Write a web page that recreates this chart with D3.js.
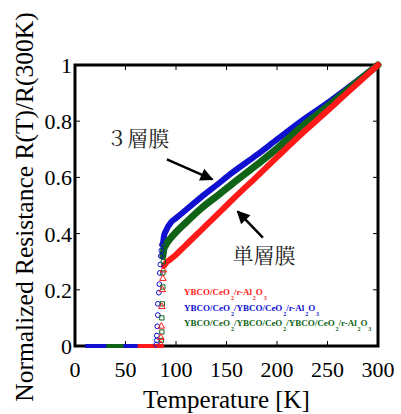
<!DOCTYPE html>
<html>
<head>
    <meta charset="UTF-8">
    <title>R(T)/R(300K)</title>
    <script src="https://d3js.org/d3.v7.min.js"></script>
    <style>
        body { margin: 0; background: #fff; }
    </style>
</head>
<body>
<svg id="chart"></svg>
<script>
// ---- data ----
const xTicks = [0, 50, 100, 150, 200, 250, 300];
const yTicks = [0, 0.2, 0.4, 0.6, 0.8, 1];
const yTickLabels = ["0", "0.2", "0.4", "0.6", "0.8", "1"];

// normal state (above Tc)
const redT   = [88, 90, 95, 100, 110, 120, 130, 140, 150, 160, 180, 200, 220, 240, 260, 280, 300];
const redR   = [0.285, 0.295, 0.31, 0.325, 0.36, 0.395, 0.43, 0.465, 0.50, 0.535, 0.603, 0.672, 0.74, 0.805, 0.87, 0.935, 1.0];
const blueT  = [87, 88, 90, 95, 100, 110, 125, 140, 155, 180, 200, 224, 250, 275, 300];
const blueR  = [0.36, 0.39, 0.41, 0.44, 0.455, 0.485, 0.53, 0.572, 0.615, 0.68, 0.735, 0.80, 0.865, 0.932, 1.0];
const greenT = [87, 88, 90, 95, 100, 110, 125, 141, 155, 180, 200, 224, 250, 275, 300];
const greenR = [0.32, 0.345, 0.36, 0.385, 0.405, 0.44, 0.49, 0.535, 0.575, 0.645, 0.703, 0.78, 0.853, 0.927, 1.0];

// transition points
const blueTrT  = [80.5, 81, 81, 81.5, 82, 82, 83, 83.5, 84, 84.5, 85, 85.5, 86];
const blueTrR  = [0.005, 0.02, 0.037, 0.07, 0.11, 0.15, 0.19, 0.22, 0.26, 0.29, 0.32, 0.34, 0.36];
const greenTrT = [85.5, 86, 86, 86.5, 87, 87, 87.5];
const greenTrR = [0.02, 0.05, 0.1, 0.15, 0.21, 0.26, 0.30];
const redTrT   = [85, 85, 85.5, 86, 86.5, 87, 87.5];
const redTrR   = [0.005, 0.03, 0.07, 0.14, 0.20, 0.24, 0.27];

// zero-resistance stretches
const blueZeroT  = [10, 84];
const greenZeroT = [31, 48];
const redZeroT   = [62, 87];

const SERIF = "Liberation Serif";
const MINCHO = "Noto Serif CJK JP";

const width = 401, height = 414;
const margin = { top: 65, right: 23, bottom: 68, left: 75 };

const svg = d3.select("#chart").attr("width", width).attr("height", height);

const x = d3.scaleLinear().domain([0, 300]).range([margin.left, width - margin.right]);
const y = d3.scaleLinear().domain([0, 1]).range([height - margin.bottom, margin.top]);

const colors = { red: "#ff1a1a", blue: "#1010d0", green: "#0f6418" };

// curves, drawn blue -> green -> red
const line = d3.line().x(d => x(d[0])).y(d => y(d[1])).curve(d3.curveMonotoneX);
const series = [
    { T: blueT, R: blueR, c: colors.blue, w: 6 },
    { T: greenT, R: greenR, c: colors.green, w: 7 },
    { T: redT, R: redR, c: colors.red, w: 6 }
];

// frame
const frame = svg.append("g");
frame.append("rect")
    .attr("x", x(0)).attr("y", y(1))
    .attr("width", x(300) - x(0)).attr("height", y(0) - y(1))
    .attr("fill", "none").attr("stroke", "#000").attr("stroke-width", 3);

// inward ticks on all sides
xTicks.slice(1, -1).forEach(t => {
    frame.append("line").attr("x1", x(t)).attr("x2", x(t)).attr("y1", y(0)).attr("y2", y(0) - 5).attr("stroke", "#000");
    frame.append("line").attr("x1", x(t)).attr("x2", x(t)).attr("y1", y(1)).attr("y2", y(1) + 5).attr("stroke", "#000");
});
yTicks.slice(1, -1).forEach(t => {
    frame.append("line").attr("x1", x(0)).attr("x2", x(0) + 5).attr("y1", y(t)).attr("y2", y(t)).attr("stroke", "#000");
    frame.append("line").attr("x1", x(300)).attr("x2", x(300) - 5).attr("y1", y(t)).attr("y2", y(t)).attr("stroke", "#000");
});

series.forEach(s => {
    svg.append("path")
        .datum(s.T.map((t, i) => [t, s.R[i]]))
        .attr("d", line)
        .attr("fill", "none")
        .attr("stroke", s.c)
        .attr("stroke-width", s.w)
        .attr("stroke-linecap", "round");
});

// zero stretches on the baseline
[[blueZeroT, colors.blue], [greenZeroT, colors.green], [redZeroT, colors.red]].forEach(([z, c]) => {
    svg.append("line")
        .attr("x1", x(z[0])).attr("x2", x(z[1]))
        .attr("y1", y(0)).attr("y2", y(0))
        .attr("stroke", c).attr("stroke-width", 4);
});

// transition markers
const sym = (type, size) => d3.symbol().type(type).size(size)();
const markerSets = [
    { T: blueTrT, R: blueTrR, c: colors.blue, type: d3.symbolCircle, size: 18 },
    { T: greenTrT, R: greenTrR, c: colors.green, type: d3.symbolSquare, size: 18 },
    { T: redTrT, R: redTrR, c: colors.red, type: d3.symbolTriangle, size: 18 }
];
markerSets.forEach(m => {
    svg.append("g").selectAll("path")
        .data(m.T.map((t, i) => [t, m.R[i]]))
        .enter().append("path")
        .attr("d", sym(m.type, m.size))
        .attr("transform", d => "translate(" + x(d[0]) + "," + y(d[1]) + ")")
        .attr("fill", "none")
        .attr("stroke", m.c)
        .attr("stroke-width", 1);
});

// tick labels
xTicks.forEach(t => {
    svg.append("text")
        .attr("font-family", SERIF).attr("font-size", 22)
        .attr("x", x(t)).attr("y", y(0) + 31)
        .attr("text-anchor", "middle").text(t);
});
yTicks.forEach((t, i) => {
    svg.append("text")
        .attr("font-family", SERIF).attr("font-size", 22)
        .attr("x", x(0) - 3).attr("y", y(t) + 8)
        .attr("text-anchor", "end").text(yTickLabels[i]);
});

// axis titles
svg.append("text")
    .attr("font-family", SERIF).attr("font-size", 25)
    .attr("x", (x(0) + x(300)) / 2).attr("y", height - 6)
    .attr("text-anchor", "middle").text("Temperature [K]");
svg.append("text")
    .attr("font-family", SERIF).attr("font-size", 25.5)
    .attr("transform", "translate(33," + 207 + ") rotate(-90)")
    .attr("text-anchor", "middle").text("Normalized Resistance R(T)/R(300K)");

// legend
const legendRows = [
    { c: colors.red, parts: [["YBCO/CeO", 0], ["2", 1], ["/r-Al", 0], ["2", 1], ["O", 0], ["3", 1]] },
    { c: colors.blue, parts: [["YBCO/CeO", 0], ["2", 1], ["/YBCO/CeO", 0], ["2", 1], ["/r-Al", 0], ["2", 1], ["O", 0], ["3", 1]] },
    { c: colors.green, parts: [["YBCO/CeO", 0], ["2", 1], ["/YBCO/CeO", 0], ["2", 1], ["/YBCO/CeO", 0], ["2", 1], ["/r-Al", 0], ["2", 1], ["O", 0], ["3", 1]] }
];
const legendAnchor = { T: 108, R: 0.18, step: 0.054 };
const legend = svg.append("g");
legendRows.forEach((row, i) => {
    const txt = legend.append("text")
        .attr("font-family", SERIF).attr("font-weight", "bold")
        .attr("x", x(legendAnchor.T))
        .attr("y", y(legendAnchor.R - i * legendAnchor.step))
        .attr("fill", row.c);
    let prevSub = 0;
    row.parts.forEach(([s, sub]) => {
        txt.append("tspan")
            .attr("dy", sub === prevSub ? 0 : (sub ? 5 : -5))
            .attr("dx", sub ? 0.8 : 0)
            .attr("font-size", sub ? 6 : 9)
            .text(s);
        prevSub = sub;
    });
});

// annotations
svg.append("defs").append("marker")
    .attr("id", "arrow").attr("viewBox", "0 0 10 10")
    .attr("refX", 9).attr("refY", 5)
    .attr("markerWidth", 15).attr("markerHeight", 13)
    .attr("markerUnits", "userSpaceOnUse")
    .attr("orient", "auto")
    .append("path").attr("d", "M0,0 L10,5 L0,10 z").attr("fill", "#000");

const notes = [
    { text: "３層膜", tx: 31, ty: 0.713, from: [91, 0.664], to: [136, 0.593] },
    { text: "単層膜", tx: 156, ty: 0.297, from: [186, 0.386], to: [161, 0.479] }
];
notes.forEach(n => {
    svg.append("text")
        .attr("font-family", MINCHO).attr("font-size", 21).attr("fill", "#222")
        .attr("x", x(n.tx)).attr("y", y(n.ty)).text(n.text);
    svg.append("line")
        .attr("x1", x(n.from[0])).attr("y1", y(n.from[1]))
        .attr("x2", x(n.to[0])).attr("y2", y(n.to[1]))
        .attr("stroke", "#000").attr("stroke-width", 2.5)
        .attr("marker-end", "url(#arrow)");
});
</script>
</body>
</html>
